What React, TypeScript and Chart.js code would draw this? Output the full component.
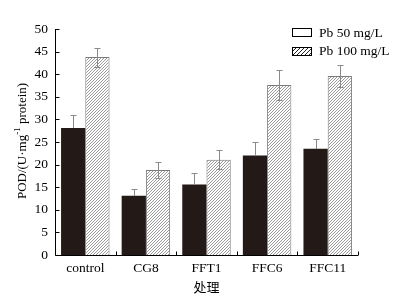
import React, { useEffect, useRef } from "react";
import { Chart, registerables } from "chart.js";

Chart.register(...registerables);

const categories = ["control", "CG8", "FFT1", "FFC6", "FFC11"];
const pb50 = [28.1, 13.1, 15.6, 22.0, 23.5];
const pb50Err = [2.8, 1.4, 2.5, 3.1, 2.1];
const pb100 = [43.8, 18.8, 21.1, 37.6, 39.6];
const pb100Err = [2.1, 1.7, 2.1, 3.3, 2.5];
const seriesNames = ["Pb 50 mg/L", "Pb 100 mg/L"];
const yMin = 0;
const yMax = 50;
const yStep = 5;
const xTitle = "处理";
const yTitleParts = ["POD/(U·mg", "-1", " protein)"];

const FONT = "'Liberation Serif', 'Times New Roman', serif";
const DARK = "#231916";
const GREY = "#8a8a8a";

function makeHatch(size: number, color: string): CanvasPattern | string {
  const c = document.createElement("canvas");
  c.width = size;
  c.height = size;
  const g = c.getContext("2d");
  if (!g) return "#ccc";
  g.fillStyle = "#ffffff";
  g.fillRect(0, 0, size, size);
  g.strokeStyle = color;
  g.lineWidth = 1;
  g.beginPath();
  g.moveTo(0, size);
  g.lineTo(size, 0);
  g.moveTo(-1, 1);
  g.lineTo(1, -1);
  g.moveTo(size - 1, size + 1);
  g.lineTo(size + 1, size - 1);
  g.stroke();
  const p = g.createPattern(c, "repeat");
  return p || "#ccc";
}

export default function App() {
  const ref = useRef<HTMLCanvasElement | null>(null);

  useEffect(() => {
    document.body.style.margin = "0";
    const canvas = ref.current;
    if (!canvas) return;
    const hatch = makeHatch(3, "#9a9a9a");
    const legendHatch = makeHatch(4, "#222");

    const decor = {
      id: "decor",
      afterDatasetsDraw(chart: any) {
        const ctx = chart.ctx;
        const y = chart.scales.y;
        const errs = [pb50Err, pb100Err];
        const vals = [pb50, pb100];
        ctx.save();
        ctx.strokeStyle = GREY;
        ctx.lineWidth = 1;
        for (let d = 0; d < 2; d++) {
          const meta = chart.getDatasetMeta(d);
          meta.data.forEach((bar: any, i: number) => {
            const cx = Math.round(bar.x) + 0.5;
            const top = Math.round(y.getPixelForValue(vals[d][i] + errs[d][i])) + 0.5;
            const bot =
              d === 0
                ? Math.round(y.getPixelForValue(vals[d][i]))
                : Math.round(y.getPixelForValue(vals[d][i] - errs[d][i])) + 0.5;
            ctx.beginPath();
            ctx.moveTo(cx, top);
            ctx.lineTo(cx, bot);
            ctx.moveTo(cx - 3, top);
            ctx.lineTo(cx + 3, top);
            if (d === 1) {
              ctx.moveTo(cx - 3, bot);
              ctx.lineTo(cx + 3, bot);
            }
            ctx.stroke();
          });
        }
        ctx.restore();
      },
      afterDraw(chart: any) {
        const ctx = chart.ctx;
        const area = chart.chartArea;
        const x = chart.scales.x;
        const y = chart.scales.y;
        ctx.save();
        ctx.strokeStyle = "#000";
        ctx.lineWidth = 1;
        ctx.beginPath();
        const ax = Math.round(area.left) + 0.5;
        const ay = Math.round(area.bottom) + 0.5;
        ctx.moveTo(ax, Math.round(area.top));
        ctx.lineTo(ax, ay);
        ctx.lineTo(Math.round(area.right), ay);
        for (let v = yMin; v <= yMax; v += yStep) {
          const py = Math.round(y.getPixelForValue(v)) + 0.5;
          ctx.moveTo(ax, py);
          ctx.lineTo(ax + 4, py);
        }
        for (let i = 0; i < categories.length; i++) {
          const bx =
            i < categories.length - 1
              ? (x.getPixelForValue(i) + x.getPixelForValue(i + 1)) / 2
              : area.right;
          const px = Math.round(bx) + 0.5;
          ctx.moveTo(px, ay);
          ctx.lineTo(px, ay - 4);
        }
        ctx.stroke();

        // x title
        ctx.fillStyle = "#000";
        ctx.font = "13px 'Noto Sans CJK SC', sans-serif";
        ctx.textAlign = "center";
        ctx.textBaseline = "middle";
        ctx.fillText(xTitle, (area.left + area.right) / 2, 287);

        // y title with superscript
        ctx.save();
        ctx.translate(21, 141);
        ctx.rotate(-Math.PI / 2);
        const mainFont = `13px ${FONT}`;
        const supFont = `9px ${FONT}`;
        ctx.font = mainFont;
        const w0 = ctx.measureText(yTitleParts[0]).width;
        const w2 = ctx.measureText(yTitleParts[2]).width;
        ctx.font = supFont;
        const w1 = ctx.measureText(yTitleParts[1]).width;
        const total = w0 + w1 + w2;
        let sx = -total / 2;
        ctx.textAlign = "left";
        ctx.textBaseline = "alphabetic";
        ctx.font = mainFont;
        ctx.fillText(yTitleParts[0], sx, 5);
        sx += w0;
        ctx.font = supFont;
        ctx.fillText(yTitleParts[1], sx, -1);
        sx += w1;
        ctx.font = mainFont;
        ctx.fillText(yTitleParts[2], sx, 5);
        ctx.restore();

        // legend
        const rows = [
          { y: 32, fill: "#ffffff" as any },
          { y: 50.5, fill: legendHatch as any },
        ];
        rows.forEach((r, i) => {
          const top = Math.round(r.y - 4);
          ctx.fillStyle = r.fill;
          ctx.fillRect(292, top, 20, 8);
          ctx.strokeStyle = "#000";
          ctx.strokeRect(292.5, top + 0.5, 19, 8);
          ctx.fillStyle = "#000";
          ctx.font = `13.5px ${FONT}`;
          ctx.textAlign = "left";
          ctx.textBaseline = "middle";
          ctx.fillText(seriesNames[i], 319, r.y + 1);
        });
        ctx.restore();
      },
    };

    const chart = new Chart(canvas, {
      type: "bar",
      data: {
        labels: categories,
        datasets: [
          {
            label: seriesNames[0],
            data: pb50,
            backgroundColor: DARK,
            borderWidth: 0,
            categoryPercentage: 0.8,
            barPercentage: 1,
          },
          {
            label: seriesNames[1],
            data: pb100,
            backgroundColor: hatch as any,
            borderColor: "#7a7a7a",
            borderWidth: 1,
            categoryPercentage: 0.8,
            barPercentage: 1,
          },
        ],
      },
      options: {
        responsive: false,
        animation: false,
        devicePixelRatio: 1,
        layout: { padding: { top: 29, right: 41, left: 0, bottom: 0 } },
        plugins: {
          legend: { display: false },
          tooltip: { enabled: false },
        },
        scales: {
          x: {
            grid: { display: false, drawTicks: false },
            border: { display: false },
            ticks: { color: "#000", font: { family: FONT, size: 13.5 }, padding: 5 },
            afterFit: (s: any) => {
              s.height = 45;
            },
          },
          y: {
            min: yMin,
            max: yMax,
            grid: { display: false, drawTicks: false },
            border: { display: false },
            ticks: {
              stepSize: yStep,
              color: "#000",
              font: { family: FONT, size: 13.5 },
              padding: 7,
            },
            afterFit: (s: any) => {
              s.width = 55;
            },
          },
        },
      },
      plugins: [decor],
    });
    return () => chart.destroy();
  }, []);

  return (
    <div style={{ width: 399, height: 300 }}>
      <canvas ref={ref} width={399} height={300} style={{ display: "block" }} />
    </div>
  );
}
